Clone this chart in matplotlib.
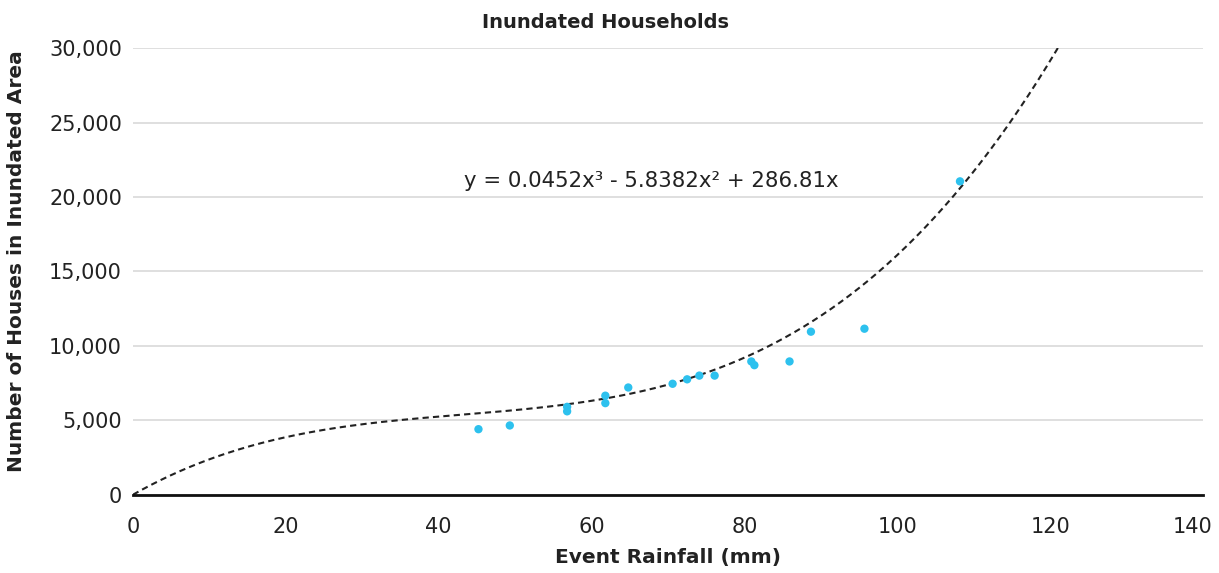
import numpy as np
import matplotlib
matplotlib.use("Agg")
import matplotlib.pyplot as plt
import matplotlib.transforms as mtransforms
from matplotlib.ticker import FuncFormatter

plt.rcParams['font.family'] = ['DejaVu Sans']

rainfall = [45.2, 49.3, 56.8, 56.8, 61.8, 61.8, 64.8, 70.6, 72.5, 74.1, 76.1,
            80.9, 81.3, 85.9, 88.7, 95.7, 108.2]
houses = [4400, 4650, 5900, 5600, 6650, 6150, 7200, 7450, 7750, 8000, 8000,
          8950, 8700, 8950, 10950, 11150, 21050]
trend_x = [6.2, 12.7, 20.0, 25.8, 33.3, 39.0, 49.8, 56.8, 61.8, 80.3, 83.3, 106.9, 108.2, 115.1, 121.0]
trend_y = [1750, 2850, 4080, 4640, 5070, 5020, 5450, 5950, 6390, 9230, 10000, 20000, 21050, 25000, 29820]
equation = 'y = 0.0452x³ - 5.8382x² + 286.81x'
x_ticks = [0, 20, 40, 60, 80, 100, 120, 140]
y_ticks = [0, 5000, 10000, 15000, 20000, 25000, 30000]

# cubic trendline through the origin (as in the reference)
tx = np.array(trend_x)
A = np.column_stack([tx**3, tx**2, tx])
coef, *_ = np.linalg.lstsq(A, np.array(trend_y, float), rcond=None)
coefs = list(coef) + [0.0]

fig = plt.figure(figsize=(12.19, 5.73), dpi=100)
ax = fig.add_axes([0.1091, 0.1367, 0.8778, 0.7793])

xt = np.linspace(0, 122, 400)
yt = np.polyval(coefs, xt)
ax.plot(xt, yt, color='#222222', lw=1.5, ls=(0, (3, 2)), zorder=2, clip_on=True)
ax.scatter(rainfall, houses, s=36, color='#2DC1EE', edgecolor='none', zorder=3)

ax.set_xlim(0, 140)
ax.set_ylim(0, 30000)
ax.set_xticks(x_ticks)
ax.set_yticks(y_ticks)
ax.yaxis.set_major_formatter(FuncFormatter(lambda v, p: f"{int(v):,}"))
ax.grid(axis='y', color='#d9d9d9', lw=1.2)
ax.set_axisbelow(True)
for s in ['top', 'right', 'left']:
    ax.spines[s].set_visible(False)
ax.spines['bottom'].set_color('#111111')
ax.spines['bottom'].set_linewidth(2)
ax.tick_params(axis='both', length=0, labelsize=15, colors='#222222')
ax.tick_params(axis='x', pad=16)
ax.tick_params(axis='y', pad=8)

# keep the last x tick label inside the figure
last = ax.get_xticklabels()[-1]
last.set_transform(last.get_transform() +
                   mtransforms.ScaledTranslation(-10/100, 0, fig.dpi_scale_trans))

ax.set_xlabel('Event Rainfall (mm)', fontsize=14.5, fontweight='bold', color='#222222', labelpad=8)
ax.set_ylabel('Number of Houses in Inundated Area', fontsize=14.5, fontweight='bold', color='#222222')
ax.yaxis.set_label_coords(-0.1, 0.522)
fig.text(605/1219, 1-22/573, 'Inundated Households', ha='center', va='center',
         fontsize=14, fontweight='bold', color='#222222')
ax.text(67.8, 21100, equation, ha='center', va='center',
        fontsize=15.3, color='#222222')

fig.savefig('out.png', dpi=100)
